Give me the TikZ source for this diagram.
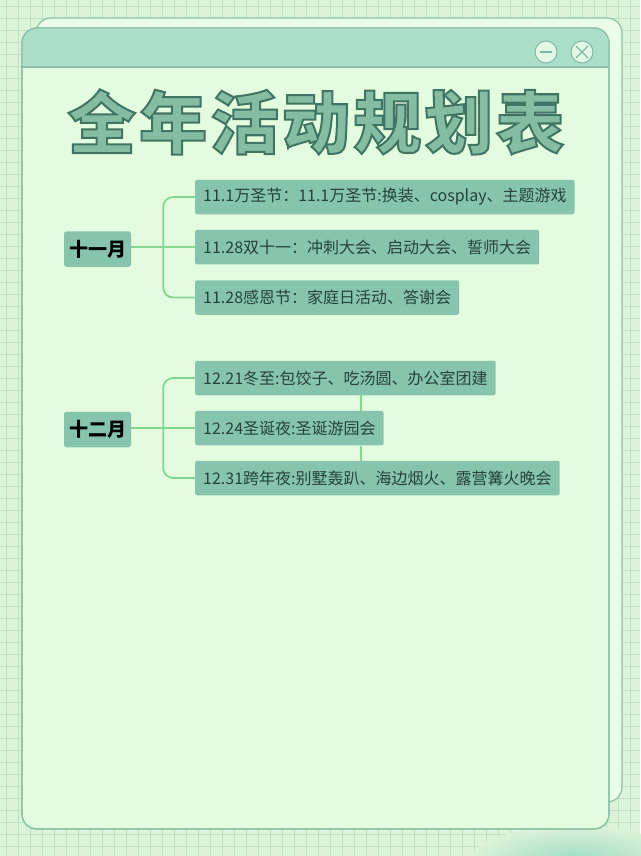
\documentclass[tikz,border=0pt]{standalone}
\usepackage{fontspec}
\newfontfamily\cjk{Noto Sans CJK SC}
\usetikzlibrary{calc}
\definecolor{bgc}{HTML}{DBF3D8}
\definecolor{gridc}{HTML}{BFE0C1}
\definecolor{panel}{HTML}{E3FCE0}
\definecolor{panelb}{HTML}{EAFDE8}
\definecolor{edgec}{HTML}{8FBFA5}
\definecolor{headc}{HTML}{A9DFCB}
\definecolor{leafc}{HTML}{87C4AE}
\definecolor{linkc}{HTML}{84D695}
\definecolor{inkc}{HTML}{24433A}
\definecolor{btnc}{HTML}{E4F7E6}
\definecolor{btnl}{HTML}{7FB8A2}
\definecolor{patchc}{HTML}{9FDCC4}
\newcommand{\titlestroke}{\special{pdf:code 0.25 0.46 0.39 RG 0.52 0.74 0.64 rg 2 Tr 2 w}}
\newcommand{\titlereset}{\special{pdf:code 0 Tr 1 w}}
\tikzset{
  leaf/.style={fill=leafc,rounded corners=2pt,anchor=west,minimum height=34.5pt,inner xsep=8pt,inner ysep=0pt,text=inkc,font=\cjk\fontsize{16}{18}\selectfont},
  rootn/.style={fill=leafc,rounded corners=2.5pt,minimum width=67pt,minimum height=35.5pt,inner sep=0pt,text=black,font=\cjk\bfseries\fontsize{19}{24}\selectfont},
  link/.style={draw=linkc,line width=1.8pt},
  win/.style={draw=edgec,line width=1.2pt,rounded corners=15pt},
  btn/.style={circle,draw=btnl,fill=btnc,line width=1pt,minimum size=22pt,inner sep=0pt},
  btnmark/.style={draw=btnl,line width=1.1pt}
}
\begin{document}
\begin{tikzpicture}[x=1pt,y=-1pt]
\useasboundingbox (0,0) rectangle (640,856);
\fill[bgc] (0,0) rectangle (640,856);
\foreach \k in {0,...,53} {\draw[gridc,line width=.8pt] ({\k*12+6},0) -- ({\k*12+6},856);}
\foreach \k in {0,...,71} {\draw[gridc,line width=.8pt] (0,{\k*12+6}) -- (640,{\k*12+6});}
\shade[inner color=patchc,outer color=bgc] (575,860) ellipse [x radius=105,y radius=34];
\fill[panelb,win,draw=edgec] (36,18) rectangle (622,802);
\fill[panel,win,draw=edgec] (22,28) rectangle (609,829);
\begin{scope}
\path[clip,rounded corners=15pt] (22,28) rectangle (609,120);
\fill[headc] (22,28) rectangle (609,67);
\end{scope}
\draw[edgec,line width=1.1pt] (22,67) -- (609,67);
\draw[win,draw=edgec] (22,28) rectangle (609,829);
\node[btn] (minb) at (546,52) {};
\node[btn] (clob) at (582,52) {};
\draw[btnmark] ($(minb)+(-6,0)$) -- ($(minb)+(6,0)$);
\draw[btnmark] ($(clob)+(-6,-6)$) -- ($(clob)+(6,6)$);
\draw[btnmark] ($(clob)+(6,-6)$) -- ($(clob)+(-6,6)$);
\node[inner sep=0pt,font=\cjk\bfseries\fontsize{68}{72}\selectfont,anchor=center] (title) at (316,122) {\titlestroke 全\hspace{3.4pt}年\hspace{3.4pt}活\hspace{3.4pt}动\hspace{3.4pt}规\hspace{3.4pt}划\hspace{3.4pt}表\titlereset};
\node[rootn] (nov) at (97.5,249) {十一月};
\node[leaf] (a1) at (195,197) {11.1万圣节：11.1万圣节:换装、cosplay、主题游戏};
\node[leaf] (a2) at (195,247.2) {11.28双十一：冲刺大会、启动大会、誓师大会};
\node[leaf] (a3) at (195,297.5) {11.28感恩节：家庭日活动、答谢会};
\node[rootn] (dec) at (97.5,429.5) {十二月};
\node[leaf] (b1) at (195,378) {12.21冬至:包饺子、吃汤圆、办公室团建};
\node[leaf] (b2) at (195,428.2) {12.24圣诞夜:圣诞游园会};
\node[leaf] (b3) at (195,478) {12.31跨年夜:别墅轰趴、海边烟火、露营篝火晚会};
\draw[link] (a2.west -| nov.east) -- (a2.west);
\draw[link] (b2.west -| dec.east) -- (b2.west);
\coordinate (sn) at ($(a2.west -| nov.east)+(32,0)$);
\coordinate (sd) at ($(b2.west -| dec.east)+(32,0)$);
\foreach \s/\l in {sn/a1,sn/a3,sd/b1,sd/b3}{
  \draw[link,rounded corners=10pt] (\s) |- (\l.west);
}
\coordinate (lk) at (361,0);
\draw[link] (b1.south -| lk) -- (b2.north -| lk);
\draw[link] (b2.south -| lk) -- (b3.north -| lk);
\end{tikzpicture}
\end{document}
